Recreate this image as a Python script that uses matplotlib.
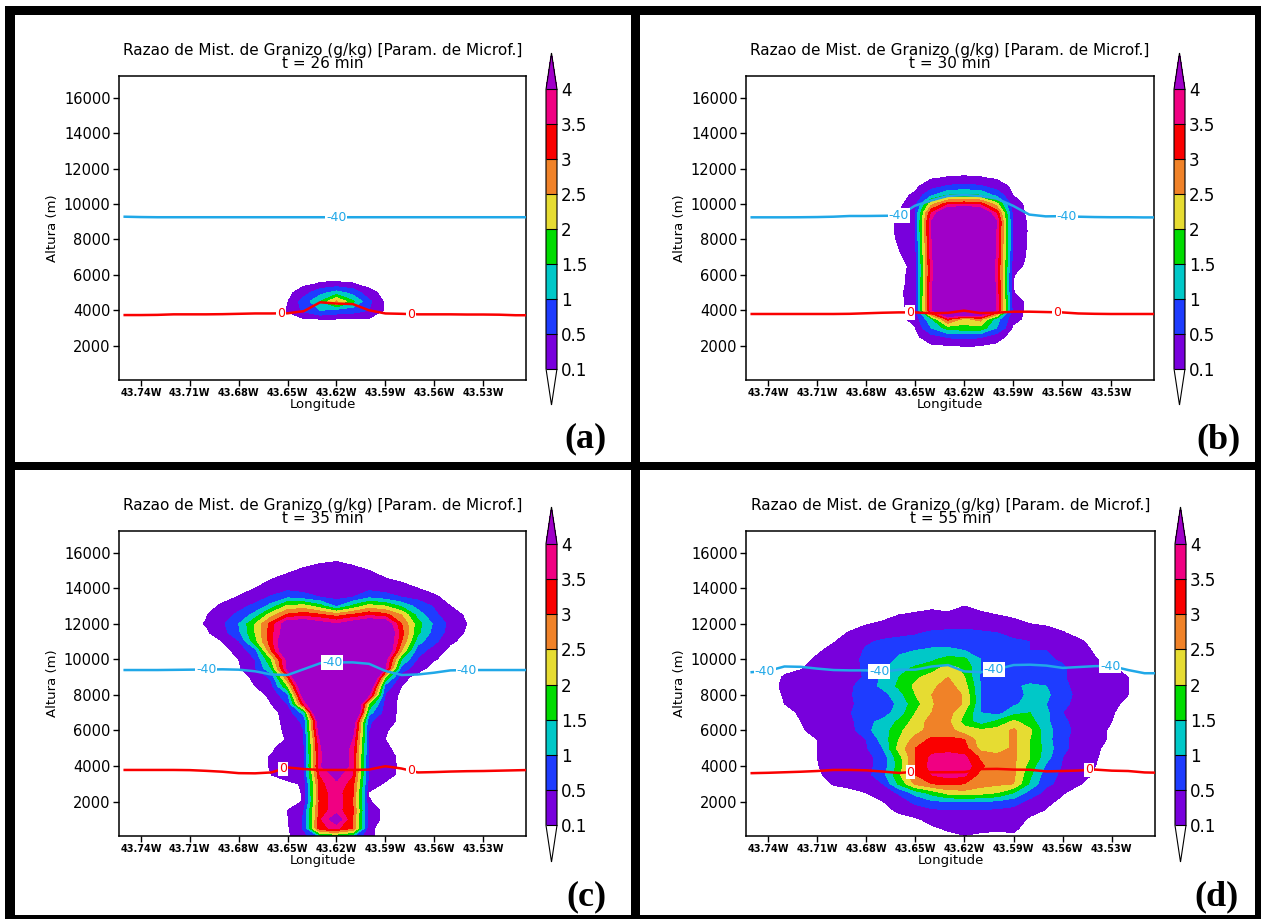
import numpy as np
import matplotlib
matplotlib.use("Agg")
import matplotlib.pyplot as plt
from matplotlib.colors import ListedColormap, BoundaryNorm
from matplotlib.patches import Rectangle

# model cross-section grid: longitude (deg W) and height (m)
LON_W = np.round(np.arange(43.75, 43.495, -0.01), 2)
HEIGHTS = np.arange(0, 17501, 500)

LEVELS = [0.1, 0.5, 1, 1.5, 2, 2.5, 3, 3.5, 4]
LEVEL_LABELS = ["0.1", "0.5", "1", "1.5", "2", "2.5", "3", "3.5", "4"]
BAND_COLORS = ["#7800dc", "#1e3cff", "#00c8c8", "#00dc00",
               "#e6dc32", "#f08228", "#fa0000", "#f00082"]
OVER_COLOR = "#a000c8"
RED_LINE = "#fa0000"
BLUE_LINE = "#20a8e8"

TICK_LON_W = [43.74, 43.71, 43.68, 43.65, 43.62, 43.59, 43.56, 43.53]
TICK_Z = [2000, 4000, 6000, 8000, 10000, 12000, 14000, 16000]
TIMES = [26, 30, 35, 55]

# hail mixing ratio (g/kg), rows bottom->top every 500 m, columns every 0.01 deg eastward
HAIL_A_START = (43.66, 3000)
HAIL_A = [
    [0, 0, 0, 0, 0, 0, 0, 0],
    [0, 0.03, 0.08, 0.09, 0.09, 0.09, 0.06, 0],
    [0, 0.12, 0.6, 1.0, 0.8, 0.7, 0.5, 0.05],
    [0, 0.08, 0.7, 1.5, 2.6, 1.6, 0.6, 0.02],
    [0, 0, 0.3, 0.8, 1.2, 0.8, 0.2, 0],
    [0, 0, 0.02, 0.12, 0.13, 0.11, 0, 0],
    [0, 0, 0, 0, 0, 0, 0, 0],
]

HAIL_B_START = (43.67, 1500)
HAIL_B = [
    [0, 0, 0, 0, 0, 0, 0, 0, 0, 0, 0],
    [0, 0, 0, 0.06, 0.08, 0.11, 0.1, 0.05, 0, 0, 0],
    [0, 0, 0.02, 0.3, 0.55, 0.6, 0.55, 0.2, 0, 0, 0],
    [0, 0, 0.08, 1.0, 1.7, 1.8, 1.8, 1.0, 0.05, 0, 0],
    [0, 0, 0.2, 1.4, 3.2, 2.3, 2.7, 1.2, 0.2, 0, 0],
    [0, 0.02, 0.22, 3.9, 6, 6, 6, 3.9, 0.3, 0, 0],
    [0, 0.03, 0.22, 3.9, 6, 6, 6, 3.9, 0.28, 0, 0],
    [0, 0.05, 0.22, 3.8, 6, 6, 6, 3.8, 0.11, 0, 0],
    [0, 0.03, 0.2, 3.8, 6, 6, 6, 3.8, 0.1, 0, 0],
    [0, 0.02, 0.2, 3.7, 6, 6, 6, 3.7, 0.11, 0, 0],
    [0, 0.01, 0.18, 3.7, 6, 6, 6, 3.7, 0.25, 0, 0],
    [0, 0.05, 0.25, 3.8, 6, 6, 6, 3.8, 0.35, 0.02, 0],
    [0, 0.1, 0.3, 3.8, 6, 6, 6, 3.8, 0.4, 0.03, 0],
    [0, 0.12, 0.35, 3.9, 6, 6, 6, 3.9, 0.4, 0.04, 0],
    [0, 0.14, 0.4, 4.0, 6, 6, 6, 3.9, 0.42, 0.05, 0],
    [0, 0.13, 0.42, 4.0, 6, 6, 6, 4.0, 0.4, 0.03, 0],
    [0, 0.1, 0.45, 3.5, 5, 5.5, 5, 3.4, 0.35, 0, 0],
    [0, 0.02, 0.3, 2.3, 3.3, 3.4, 3.3, 2.2, 0.25, 0, 0],
    [0, 0, 0.15, 0.9, 1.5, 1.6, 1.5, 0.8, 0.1, 0, 0],
    [0, 0, 0.03, 0.3, 0.55, 0.6, 0.55, 0.3, 0.02, 0, 0],
    [0, 0, 0, 0.05, 0.11, 0.12, 0.11, 0.04, 0, 0, 0],
    [0, 0, 0, 0, 0, 0, 0, 0, 0, 0, 0],
]

HAIL_C_START = (43.71, 0)
HAIL_C = [
    [0, 0, 0, 0, 0, 0, 0.05, 0.3, 1.0, 1.2, 0.9, 0.15, 0, 0, 0, 0, 0, 0, 0],
    [0, 0, 0, 0, 0, 0, 0.05, 0.55, 3.4, 3.6, 3.0, 0.15, 0, 0, 0, 0, 0, 0, 0],
    [0, 0, 0, 0, 0, 0, 0.08, 0.55, 3.4, 4.5, 3.0, 0.3, 0, 0, 0, 0, 0, 0, 0],
    [0, 0, 0, 0, 0, 0, 0.1, 0.5, 3.3, 3.7, 3.1, 0.3, 0, 0, 0, 0, 0, 0, 0],
    [0, 0, 0, 0, 0, 0, 0, 0.12, 3.2, 3.8, 3.0, 0.12, 0, 0, 0, 0, 0, 0, 0],
    [0, 0, 0, 0, 0, 0, 0, 0.12, 3.3, 3.7, 3.1, 0.08, 0, 0, 0, 0, 0, 0, 0],
    [0, 0, 0, 0, 0, 0, 0, 0.15, 3.3, 3.9, 3.2, 0.3, 0.05, 0, 0, 0, 0, 0, 0],
    [0, 0, 0, 0, 0, 0.1, 0.3, 0.45, 3.5, 4.2, 3.5, 0.35, 0.25, 0, 0, 0, 0, 0, 0],
    [0, 0, 0, 0, 0, 0.12, 0.3, 0.4, 3.9, 5, 3.6, 0.4, 0.3, 0, 0, 0, 0, 0, 0],
    [0, 0, 0, 0, 0, 0.12, 0.3, 0.4, 3.8, 5, 3.6, 0.4, 0.28, 0, 0, 0, 0, 0, 0],
    [0, 0, 0, 0, 0, 0.05, 0.25, 0.45, 3.9, 5, 3.7, 0.45, 0.15, 0, 0, 0, 0, 0, 0],
    [0, 0, 0, 0, 0, 0, 0.12, 0.5, 4.0, 5.5, 3.9, 0.5, 0.1, 0, 0, 0, 0, 0, 0],
    [0, 0, 0, 0, 0, 0, 0.15, 0.5, 4.5, 6, 4.2, 0.5, 0.12, 0, 0, 0, 0, 0, 0],
    [0, 0, 0, 0, 0, 0, 0.18, 0.6, 4.6, 6, 4.5, 0.55, 0.25, 0, 0, 0, 0, 0, 0],
    [0, 0, 0, 0, 0, 0.02, 0.2, 1.2, 6, 6, 6, 1.2, 0.3, 0, 0, 0, 0, 0, 0],
    [0, 0, 0, 0, 0, 0.1, 0.5, 3.5, 6, 6, 6, 2.0, 0.3, 0, 0, 0, 0, 0, 0],
    [0, 0, 0, 0, 0, 0.15, 0.9, 4.5, 6, 6, 6, 4.0, 0.45, 0, 0, 0, 0, 0, 0],
    [0, 0, 0, 0, 0.1, 0.35, 2.0, 5, 6, 6, 6, 5, 0.8, 0.1, 0, 0, 0, 0, 0],
    [0, 0, 0, 0, 0.15, 0.6, 3.0, 6, 6, 6, 6, 6, 2.0, 0.2, 0, 0, 0, 0, 0],
    [0, 0, 0, 0.05, 0.45, 1.5, 4.2, 6, 6, 6, 6, 6, 4.0, 0.8, 0.2, 0, 0, 0, 0],
    [0, 0, 0, 0.1, 0.5, 2.0, 4.2, 6, 6, 6, 6, 6, 4.2, 1.5, 0.45, 0.12, 0, 0, 0],
    [0, 0, 0, 0.2, 0.8, 3.0, 5, 6, 6, 6, 6, 6, 5, 2.5, 0.7, 0.3, 0, 0, 0],
    [0, 0, 0.1, 0.45, 1.8, 3.3, 5, 6, 6, 6, 6, 6, 5, 3.0, 1.2, 0.6, 0.15, 0, 0],
    [0, 0.05, 0.3, 0.9, 2.0, 3.3, 4.5, 6, 6, 6, 6, 6, 5, 3.2, 1.6, 0.8, 0.3, 0.05, 0],
    [0, 0.12, 0.4, 1.0, 2.0, 3.2, 4.5, 4.6, 4.3, 4.0, 4.4, 4.8, 4.6, 3.0, 1.7, 0.9, 0.35, 0.1, 0],
    [0, 0.08, 0.3, 0.6, 1.2, 2.3, 3.1, 3.3, 3.1, 2.8, 3.1, 3.4, 3.2, 2.5, 1.3, 0.6, 0.25, 0.05, 0],
    [0, 0, 0.15, 0.35, 0.6, 1.2, 2.1, 2.2, 1.7, 0.9, 1.6, 2.2, 2.0, 1.4, 0.8, 0.45, 0.1, 0, 0],
    [0, 0, 0, 0.12, 0.3, 0.55, 0.9, 0.7, 0.5, 0.35, 0.5, 0.9, 0.7, 0.5, 0.35, 0.15, 0, 0, 0],
    [0, 0, 0, 0, 0.1, 0.25, 0.35, 0.3, 0.3, 0.25, 0.3, 0.35, 0.3, 0.2, 0.1, 0, 0, 0, 0],
    [0, 0, 0, 0, 0, 0.1, 0.2, 0.25, 0.25, 0.25, 0.25, 0.2, 0.12, 0.05, 0, 0, 0, 0, 0],
    [0, 0, 0, 0, 0, 0, 0.05, 0.15, 0.2, 0.2, 0.17, 0.1, 0, 0, 0, 0, 0, 0, 0],
    [0, 0, 0, 0, 0, 0, 0, 0, 0.07, 0.1, 0.05, 0, 0, 0, 0, 0, 0, 0, 0],
    [0, 0, 0, 0, 0, 0, 0, 0, 0, 0, 0, 0, 0, 0, 0, 0, 0, 0, 0],
]

HAIL_D_START = (43.73, 0)
HAIL_D = [
    [0, 0, 0, 0, 0, 0, 0, 0, 0, 0, 0, 0.06, 0, 0, 0.05, 0, 0, 0, 0, 0, 0, 0],
    [0, 0, 0, 0, 0, 0, 0, 0, 0, 0.05, 0.15, 0.25, 0.2, 0.15, 0.15, 0, 0, 0, 0, 0, 0, 0],
    [0, 0, 0, 0, 0, 0, 0, 0, 0.05, 0.2, 0.3, 0.35, 0.3, 0.3, 0.25, 0.05, 0, 0, 0, 0, 0, 0],
    [0, 0, 0, 0, 0, 0, 0, 0.15, 0.3, 0.4, 0.45, 0.45, 0.45, 0.4, 0.35, 0.2, 0.08, 0, 0, 0, 0, 0],
    [0, 0, 0, 0, 0, 0, 0.09, 0.3, 0.6, 0.9, 1.0, 1.0, 1.0, 0.9, 0.7, 0.35, 0.15, 0.05, 0, 0, 0, 0],
    [0, 0, 0, 0, 0, 0.1, 0.3, 0.55, 1.2, 1.7, 2.2, 2.3, 2.2, 2.0, 1.5, 0.8, 0.35, 0.12, 0, 0, 0, 0],
    [0, 0, 0, 0.12, 0.2, 0.3, 0.5, 1.6, 2.6, 3.0, 3.1, 3.0, 2.7, 2.6, 2.5, 1.4, 0.6, 0.35, 0.12, 0, 0, 0],
    [0, 0, 0.05, 0.2, 0.3, 0.35, 0.8, 1.9, 3.0, 3.5, 3.7, 3.6, 2.8, 2.7, 2.6, 1.6, 0.7, 0.4, 0.25, 0.05, 0, 0],
    [0, 0, 0.08, 0.25, 0.3, 0.35, 0.7, 1.7, 3.0, 3.7, 3.9, 3.8, 3.1, 2.7, 2.6, 1.8, 0.9, 0.45, 0.3, 0.1, 0, 0],
    [0, 0, 0.1, 0.25, 0.3, 0.35, 0.7, 1.8, 3.0, 3.6, 3.7, 3.6, 2.9, 2.7, 2.6, 2.0, 1.2, 0.5, 0.3, 0.12, 0, 0],
    [0, 0, 0.1, 0.25, 0.3, 0.45, 1.0, 2.2, 3.0, 3.3, 3.3, 3.2, 2.3, 2.2, 2.6, 2.0, 1.3, 0.6, 0.3, 0.15, 0, 0],
    [0, 0, 0.1, 0.2, 0.3, 0.5, 1.2, 2.0, 2.7, 3.1, 3.1, 3.0, 2.2, 2.2, 2.6, 2.0, 1.2, 0.6, 0.3, 0.2, 0.05, 0],
    [0, 0.08, 0.15, 0.25, 0.3, 0.9, 1.2, 1.9, 2.3, 2.7, 2.7, 2.2, 2.1, 2.2, 2.6, 2.1, 1.2, 0.7, 0.3, 0.2, 0.05, 0],
    [0, 0.1, 0.15, 0.25, 0.35, 0.9, 1.1, 1.6, 2.2, 2.7, 2.6, 1.8, 1.2, 1.6, 2.1, 1.7, 1.1, 0.6, 0.3, 0.2, 0.1, 0],
    [0.05, 0.12, 0.2, 0.25, 0.45, 1.0, 0.8, 1.2, 2.0, 2.5, 2.7, 2.0, 1.0, 0.8, 1.3, 1.5, 1.1, 0.5, 0.3, 0.2, 0.12, 0],
    [0.1, 0.15, 0.2, 0.3, 0.35, 0.9, 0.7, 1.1, 1.8, 2.4, 3.0, 2.4, 1.0, 0.7, 0.9, 1.2, 1.0, 0.6, 0.35, 0.25, 0.15, 0.05],
    [0.12, 0.2, 0.25, 0.3, 0.4, 1.0, 0.8, 1.3, 2.0, 2.5, 3.0, 2.4, 1.0, 0.7, 0.8, 1.1, 1.1, 0.7, 0.35, 0.25, 0.2, 0.1],
    [0.15, 0.2, 0.25, 0.3, 0.4, 0.8, 1.1, 1.6, 2.1, 2.4, 2.7, 2.2, 1.0, 0.7, 0.9, 1.1, 1.0, 0.6, 0.35, 0.25, 0.2, 0.1],
    [0.12, 0.2, 0.25, 0.3, 0.35, 0.55, 1.1, 1.5, 1.9, 2.2, 2.5, 2.0, 0.9, 0.7, 0.7, 0.7, 0.7, 0.55, 0.3, 0.25, 0.2, 0.1],
    [0.05, 0.08, 0.2, 0.3, 0.4, 0.55, 0.9, 1.3, 1.6, 1.8, 2.2, 1.9, 1.0, 0.7, 0.7, 0.65, 0.6, 0.55, 0.35, 0.2, 0.12, 0.05],
    [0, 0, 0.15, 0.25, 0.35, 0.6, 0.7, 1.1, 1.2, 1.4, 1.7, 1.6, 1.0, 0.7, 0.6, 0.6, 0.55, 0.45, 0.3, 0.12, 0, 0],
    [0, 0, 0.05, 0.2, 0.3, 0.55, 0.6, 0.9, 1.0, 1.1, 1.1, 1.0, 0.8, 0.6, 0.55, 0.5, 0.5, 0.4, 0.25, 0.05, 0, 0],
    [0, 0, 0, 0.08, 0.25, 0.45, 0.55, 0.6, 0.65, 0.75, 0.8, 0.75, 0.65, 0.6, 0.55, 0.5, 0.45, 0.3, 0.15, 0, 0, 0],
    [0, 0, 0, 0, 0.12, 0.25, 0.35, 0.4, 0.45, 0.55, 0.6, 0.6, 0.55, 0.5, 0.4, 0.3, 0.25, 0.12, 0, 0, 0, 0],
    [0, 0, 0, 0, 0, 0.08, 0.15, 0.2, 0.25, 0.3, 0.3, 0.35, 0.3, 0.25, 0.18, 0.1, 0.05, 0, 0, 0, 0, 0],
    [0, 0, 0, 0, 0, 0, 0, 0.1, 0.14, 0.17, 0.15, 0.2, 0.17, 0.1, 0.05, 0, 0, 0, 0, 0, 0, 0],
    [0, 0, 0, 0, 0, 0, 0, 0, 0, 0.05, 0, 0.1, 0, 0, 0, 0, 0, 0, 0, 0, 0, 0],
    [0, 0, 0, 0, 0, 0, 0, 0, 0, 0, 0, 0, 0, 0, 0, 0, 0, 0, 0, 0, 0, 0],
]

# height (m) of the 0 C and -40 C isotherms at each LON_W column
ZERO_A = [3730, 3730, 3740, 3770, 3770, 3770, 3780, 3800, 3820, 3820, 3830, 3950, 4450,
          4380, 4350, 4000, 3820, 3800, 3770, 3770, 3770, 3760, 3760, 3750, 3720, 3720]
M40_A = [9280, 9260, 9250, 9250, 9250, 9250, 9250, 9250, 9250, 9250, 9250, 9250, 9250,
         9250, 9250, 9250, 9250, 9250, 9250, 9250, 9250, 9250, 9250, 9250, 9250, 9250]
ZERO_B = [3790, 3790, 3790, 3790, 3790, 3790, 3800, 3830, 3860, 3880, 3880, 3830, 3850,
          3980, 3840, 3860, 3920, 3920, 3900, 3880, 3820, 3800, 3790, 3790, 3790, 3790]
M40_B = [9245, 9245, 9245, 9250, 9260, 9280, 9320, 9320, 9330, 9340, 9900, 10200, 10450,
         10500, 10450, 10300, 9900, 9400, 9300, 9310, 9280, 9260, 9250, 9250, 9240, 9240]
ZERO_C = [3780, 3780, 3780, 3780, 3770, 3730, 3680, 3600, 3590, 3640, 3920, 3830, 3780,
          3780, 3780, 3800, 3990, 3860, 3640, 3660, 3690, 3710, 3720, 3740, 3760, 3780]
M40_C = [9400, 9400, 9400, 9410, 9420, 9430, 9440, 9420, 9330, 9150, 9120, 9450, 9780,
         9830, 9830, 9750, 9350, 9120, 9150, 9250, 9380, 9400, 9400, 9400, 9400, 9400]
ZERO_D = [3600, 3620, 3650, 3680, 3720, 3780, 3780, 3760, 3690, 3610, 3680, 3650, 3650,
          3660, 3830, 3840, 3800, 3790, 3700, 3720, 3750, 3800, 3740, 3720, 3640, 3620]
M40_D = [9280, 9350, 9600, 9580, 9480, 9400, 9380, 9380, 9300, 9420, 9420, 9600, 9680,
         9320, 9280, 9450, 9680, 9700, 9650, 9520, 9570, 9620, 9620, 9400, 9220, 9220]

# longitudes (deg W) where the isotherm labels sit
ZERO_LBL = [[43.654, 43.574], [43.653, 43.563], [43.653, 43.574], [43.653, 43.544]]
M40_LBL = [[43.62], [43.66, 43.557], [43.70, 43.6225, 43.54], [43.742, 43.672, 43.602, 43.531]]

W, H = 1261, 919
# axes and colorbar boxes in pixels: (left, top, right, bottom)
AX_BOX = [(119, 76, 526, 380), (746, 76, 1154, 380), (119, 531, 526, 836), (746, 531, 1155, 836)]
CB_BOX = [(546, 53, 557, 405), (1174, 53, 1185, 405), (546, 507, 557, 862), (1175, 507, 1186, 862)]
LETTER_XY = [(585, 439), (1218, 440), (586, 897), (1216, 897)]


def frac(box):
    l, t, r, b = box
    return [l / W, 1 - b / H, (r - l) / W, (b - t) / H]


def hail_field(block, start):
    lon_first, z_first = start
    field = np.zeros((len(HEIGHTS), len(LON_W)))
    block = np.array(block, dtype=float)
    i0 = int(round(z_first / 500))
    j0 = int(round((43.75 - lon_first) / 0.01))
    field[i0:i0 + block.shape[0], j0:j0 + block.shape[1]] = block
    return field


plt.rcParams["font.family"] = ["DejaVu Sans"]
fig = plt.figure(figsize=(W / 100, H / 100), dpi=100)

cmap = ListedColormap(BAND_COLORS)
cmap.set_under("white")
cmap.set_over(OVER_COLOR)

x = -LON_W
fields = [hail_field(HAIL_A, HAIL_A_START), hail_field(HAIL_B, HAIL_B_START),
          hail_field(HAIL_C, HAIL_C_START), hail_field(HAIL_D, HAIL_D_START)]
zeros = [ZERO_A, ZERO_B, ZERO_C, ZERO_D]
m40s = [M40_A, M40_B, M40_C, M40_D]

for k in range(4):
    ax = fig.add_axes(frac(AX_BOX[k]))
    norm = BoundaryNorm(LEVELS, cmap.N)
    cs = ax.contourf(x, HEIGHTS, fields[k], levels=LEVELS, cmap=cmap, norm=norm, extend="both")

    ax.plot(x, zeros[k], color=RED_LINE, lw=1.8, zorder=3)
    ax.plot(x, m40s[k], color=BLUE_LINE, lw=1.8, zorder=3)
    for lon in ZERO_LBL[k]:
        ax.text(-lon, np.interp(-lon, x, zeros[k]), "0", color=RED_LINE, fontsize=9,
                ha="center", va="center", zorder=4,
                bbox=dict(facecolor="white", edgecolor="none", pad=0.6))
    for lon in M40_LBL[k]:
        ax.text(-lon, np.interp(-lon, x, m40s[k]), "-40", color=BLUE_LINE, fontsize=9,
                ha="center", va="center", zorder=4,
                bbox=dict(facecolor="white", edgecolor="none", pad=0.6))

    ax.set_xlim(-43.7535, -43.5036)
    ax.set_ylim(65, 17220)
    ax.set_xticks([-v for v in TICK_LON_W])
    ax.set_xticklabels([f"{v:.2f}W" for v in TICK_LON_W], fontsize=7, fontweight="bold")
    ax.set_yticks(TICK_Z)
    ax.set_yticklabels([str(v) for v in TICK_Z], fontsize=10.5)
    ax.tick_params(direction="out", length=4, width=1, pad=2)
    for sp in ax.spines.values():
        sp.set_linewidth(1.1)

    ax.set_xlabel("Longitude", fontsize=9.5)
    ax.xaxis.set_label_coords(0.5, -0.059)
    ax.set_ylabel("Altura (m)", fontsize=9.5)
    ax.yaxis.set_label_coords(-0.147, 0.5)

    ax.annotate("Razao de Mist. de Granizo (g/kg) [Param. de Microf.]",
                xy=(0.5, 1), xycoords="axes fraction", xytext=(0, 15.1),
                textcoords="offset points", ha="center", va="baseline", fontsize=11)
    ax.annotate(f"t = {TIMES[k]} min", xy=(0.5, 1), xycoords="axes fraction",
                xytext=(0, 5.8), textcoords="offset points", ha="center",
                va="baseline", fontsize=11)

    cax = fig.add_axes(frac(CB_BOX[k]))
    cb = fig.colorbar(cs, cax=cax, extend="both", extendfrac=0.13, drawedges=True)
    cb.set_ticks(LEVELS, labels=LEVEL_LABELS)
    cb.ax.tick_params(length=0, labelsize=12, pad=3)
    cb.outline.set_linewidth(0.8)
    cb.dividers.set_linewidth(0.8)

    lx, ly = LETTER_XY[k]
    fig.text(lx / W, 1 - ly / H, "(" + "abcd"[k] + ")", ha="center", va="center",
             fontsize=26, fontweight="bold", family="Liberation Serif")


def black_bar(l, t, r, b):
    fig.add_artist(Rectangle((l / W, 1 - b / H), (r - l) / W, (b - t) / H,
                             transform=fig.transFigure, facecolor="black",
                             edgecolor="none", zorder=10))


black_bar(5, 6, 15, 919)
black_bar(5, 6, 1261, 15)
black_bar(1255, 6, 1261, 919)
black_bar(5, 915, 1261, 919)
black_bar(631, 6, 640, 919)
black_bar(5, 462, 1261, 470)

fig.savefig("out.png", dpi=100)
